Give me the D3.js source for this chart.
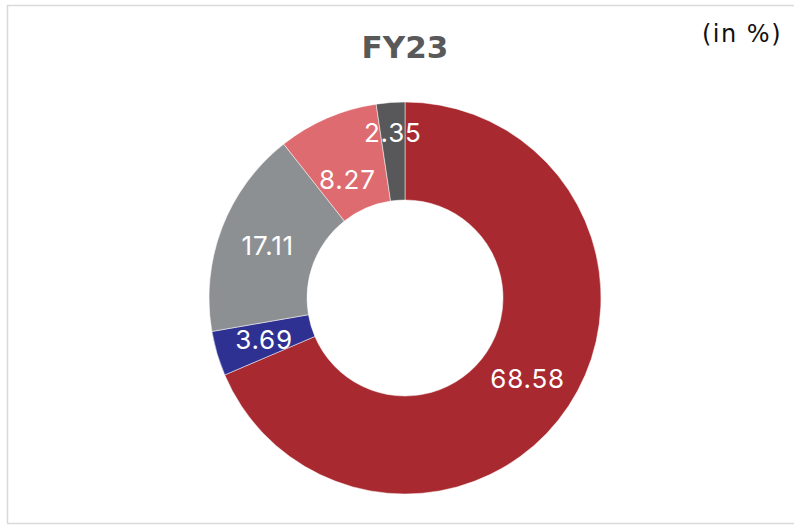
<!DOCTYPE html>
<html><head><meta charset="utf-8">
<script src="https://cdn.jsdelivr.net/npm/d3@7"></script>
<style>html,body{margin:0;padding:0;background:#fff;}svg{display:block;}
.lbl{font-feature-settings:"pnum" 1;}</style>
</head><body>
<script>
const categories = ["A", "B", "C", "D", "E"];
const values = [68.58, 3.69, 17.11, 8.27, 2.35];
const labels = ["68.58", "3.69", "17.11", "8.27", "2.35"];
const colors = ["#A8292F", "#2E3192", "#8D9093", "#DE6B6F", "#58585A"];
const title = "FY23";
const unitNote = "(in %)";

const W = 794, H = 525;
const cx = 405, cy = 298, rOuter = 196, rInner = 98;

const svg = d3.select("body").append("svg").attr("width", W).attr("height", H);
svg.append("rect").attr("x", 7.5).attr("y", 5.5).attr("width", W).attr("height", 518)
  .attr("fill", "#fff").attr("stroke", "#D9D9D9").attr("stroke-width", 1.5);

svg.append("text").attr("x", cx).attr("y", 58).attr("text-anchor", "middle")
  .attr("font-family", "DejaVu Sans").attr("font-weight", "bold").attr("font-size", 31)
  .attr("fill", "#595959").text(title);
svg.append("text").attr("x", 782).attr("y", 42).attr("text-anchor", "end")
  .attr("font-family", "DejaVu Sans").attr("font-size", 24).attr("letter-spacing", 1.5)
  .attr("fill", "#111").text(unitNote);

const data = categories.map((c, i) => ({cat: c, value: values[i], label: labels[i], color: colors[i]}));
const pie = d3.pie().value(d => d.value).sort(null);
const arcs = pie(data);
const arc = d3.arc().innerRadius(rInner).outerRadius(rOuter);

const g = svg.append("g").attr("transform", `translate(${cx},${cy})`);
g.selectAll("path").data(arcs).join("path")
  .attr("d", arc).attr("fill", d => d.data.color)
  .attr("stroke", "#fff").attr("stroke-width", 0.5);

// label radius tweaks for the thin slices near the top
const labelRadius = d => d.data.value < 3 ? 166 : (d.index === 3 ? 132 : 147);
const labelAngleShift = d => d.index === 3 ? -0.045 : 0;
g.selectAll("text.lbl").data(arcs).join("text").attr("class", "lbl")
  .attr("transform", d => {
    const a = (d.startAngle + d.endAngle) / 2 + labelAngleShift(d);
    const r = labelRadius(d);
    return `translate(${r * Math.sin(a)},${-r * Math.cos(a)})`;
  })
  .attr("text-anchor", "middle").attr("dy", "0.36em")
  .attr("font-family", "Inter").attr("font-size", 26).attr("letter-spacing", 0.8)
  .attr("fill", "#fff").text(d => d.data.label);
</script>
</body></html>
